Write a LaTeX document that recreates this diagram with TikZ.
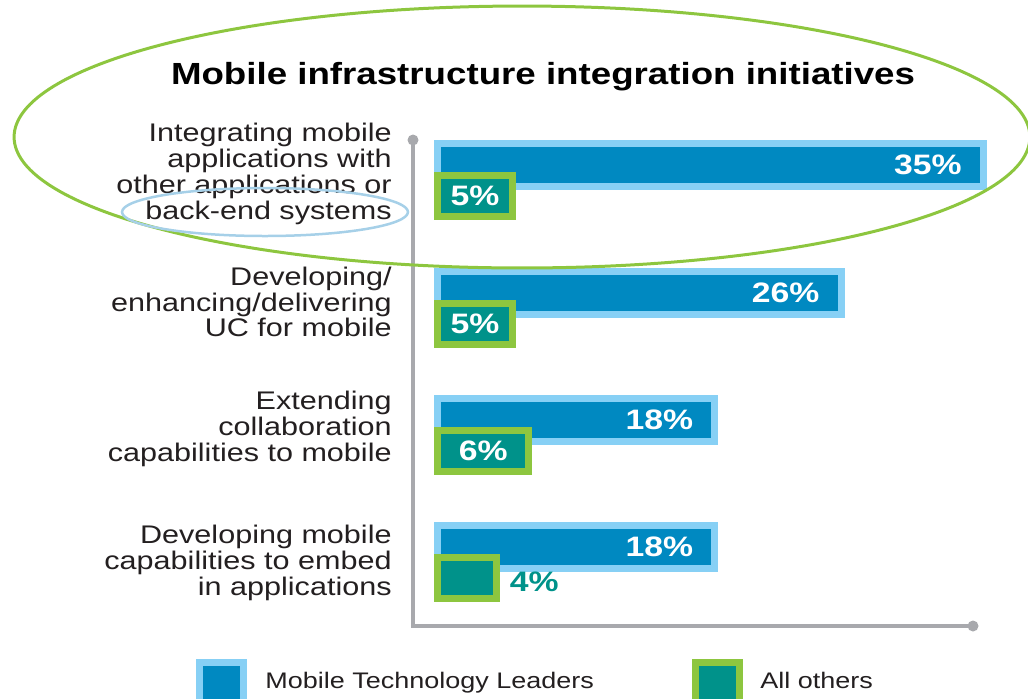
\documentclass[tikz,border=0pt]{standalone}
\usepackage{fontspec}
\setmainfont{Liberation Sans}[FakeStretch=1.2]
\usetikzlibrary{positioning}
\definecolor{leadblue}{HTML}{0089C1}
\definecolor{leadrim}{HTML}{87D0F5}
\definecolor{othteal}{HTML}{00928A}
\definecolor{othrim}{HTML}{8DC63F}
\definecolor{axisgray}{HTML}{A8A9AD}
\definecolor{labelink}{HTML}{231F20}
\definecolor{ringblue}{HTML}{A6D0E8}
\tikzset{
  leadbar/.style={rectangle,fill=leadblue,draw=leadrim,line width=0.14cm,
    inner sep=0pt,outer sep=0pt,anchor=north west,minimum height=0.86cm},
  othbar/.style={rectangle,fill=othteal,draw=othrim,line width=0.14cm,
    inner sep=0pt,outer sep=0pt,anchor=north west,minimum height=0.82cm},
  pct/.style={inner sep=0pt,font=\fontsize{16}{18}\selectfont\bfseries},
  inside/.style={pct,white},
  outside/.style={pct,othteal},
  rowlabel/.style={inner sep=0pt,align=right,anchor=east,text=labelink,
    font=\fontsize{14.5}{14.7}\selectfont},
  legendtext/.style={inner sep=0pt,anchor=base west,text=labelink,
    font=\fontsize{12.8}{15}\selectfont},
  axisline/.style={draw=axisgray,line width=0.07cm},
}
\begin{document}
\begin{tikzpicture}[x=0.02cm,y=-0.02cm]
  \useasboundingbox (0,0) rectangle (1028,698);
  \clip (0,0) rectangle (1028,698);
  % title
  \node[anchor=base,inner sep=0pt,text=black,font=\fontsize{17.4}{20}\selectfont\bfseries]
    (title) at (543,84) {Mobile infrastructure integration initiatives};
  % axes
  \coordinate (axtop) at (413,140);
  \coordinate (axcorner) at (413,626);
  \coordinate (axend) at (973,626);
  \draw[axisline] (axtop) -- (axcorner) -- (axend);
  \fill[axisgray] (axtop) circle (0.11cm);
  \fill[axisgray] (axend) circle (0.11cm);
  % bars
  \foreach \i/\yy/\lead/\oth/\ostyle/\ly/\txt in {
      1/140/35/5/inside/174/{Integrating mobile\\applications with\\other applications or\\back-end systems},
      2/268/26/5/inside/302/{Developing/\\enhancing/delivering\\UC for mobile},
      3/395/18/6/inside/429/{Extending\\collaboration\\capabilities to mobile},
      4/522/18/4/outside/563/{Developing mobile\\capabilities to embed\\in applications}}{
    \pgfmathsetmacro\lw{(15.8*\lead-7)*0.02}
    \pgfmathsetmacro\ow{(16.4*\oth-7)*0.02}
    \node[leadbar,minimum width=\lw cm] (lead\i) at (437.5,\yy+3.5) {};
    \node[othbar,minimum width=\ow cm] (oth\i) at (437.5,\yy+35.5) {};
    \node[inside,left=0.43cm of lead\i.east] (leadpct\i) {\lead\%};
    \ifnum\i<4
      \node[\ostyle] (othpct\i) at (oth\i.center) {\oth\%};
    \else
      \node[\ostyle,right=0.27cm of oth\i.east,yshift=-0.08cm] (othpct\i) {\oth\%};
    \fi
    \node[rowlabel] (label\i) at (392,\ly) {\txt};
  }
  % highlight rings
  \draw[othrim,line width=0.06cm] (522,137) ellipse [x radius=10.16cm,y radius=2.62cm];
  \draw[ringblue,line width=0.05cm] (265,212) ellipse [x radius=2.86cm,y radius=0.48cm];
  % legend
  \node[rectangle,fill=leadblue,draw=leadrim,line width=0.14cm,minimum size=0.88cm,
    inner sep=0pt] (keylead) at (221.5,684) {};
  \node[legendtext] (keyleadtext) at (265,688) {Mobile Technology Leaders};
  \node[rectangle,fill=othteal,draw=othrim,line width=0.14cm,minimum size=0.88cm,
    inner sep=0pt] (keyoth) at (717,684) {};
  \node[legendtext] (keyothtext) at (760,688) {All others};
\end{tikzpicture}
\end{document}
